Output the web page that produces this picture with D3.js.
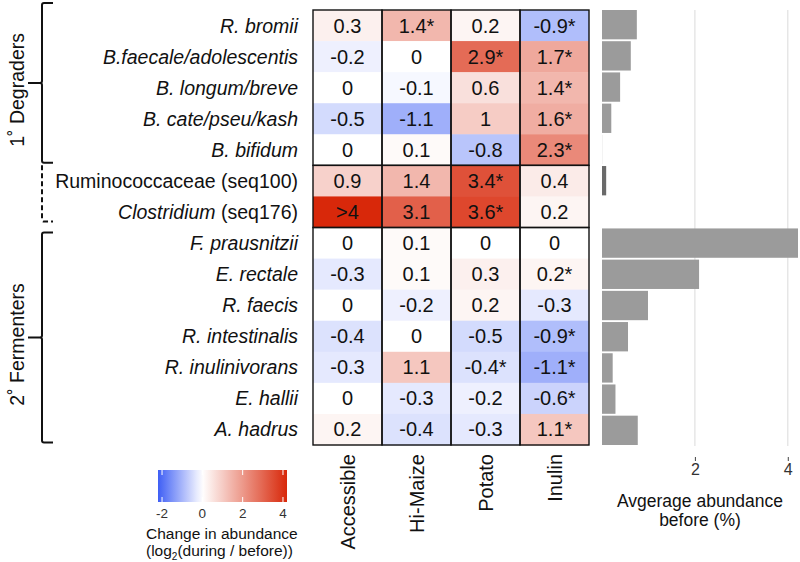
<!DOCTYPE html>
<html>
<head>
<meta charset="utf-8">
<script src="https://cdn.jsdelivr.net/npm/d3@7"></script>
<style>
  body { margin: 0; background: #fff; }
  text { font-family: "Liberation Sans", Arial, Helvetica, sans-serif; fill: #111; }
</style>
</head>
<body>
<div id="chart"></div>
<script>

// taxa (rows) and diets (columns)
var taxa = ["R. bromii", "B.faecale/adolescentis", "B. longum/breve", "B. cate/pseu/kash", "B. bifidum",
            "Ruminococcaceae (seq100)", "Clostridium (seq176)",
            "F. prausnitzii", "E. rectale", "R. faecis", "R. intestinalis", "R. inulinivorans", "E. hallii", "A. hadrus"];
var italicTaxa = [true, true, true, true, true, false, true, true, true, true, true, true, true, true];
var diets = ["Accessible", "Hi-Maize", "Potato", "Inulin"];

// log2 change labels for each diet, * = significant
var accessible = ["0.3", "-0.2", "0", "-0.5", "0", "0.9", ">4", "0", "-0.3", "0", "-0.4", "-0.3", "0", "0.2"];
var hiMaize    = ["1.4*", "0", "-0.1", "-1.1", "0.1", "1.4", "3.1", "0.1", "0.1", "-0.2", "0", "1.1", "-0.3", "-0.4"];
var potato     = ["0.2", "2.9*", "0.6", "1", "-0.8", "3.4*", "3.6*", "0", "0.3", "0.2", "-0.5", "-0.4*", "-0.2", "-0.3"];
var inulin     = ["-0.9*", "1.7*", "1.4*", "1.6*", "2.3*", "0.4", "0.2", "0", "0.2*", "-0.3", "-0.9*", "-1.1*", "-0.6*", "1.1*"];

// average abundance before (%)
var abundance = [0.75, 0.62, 0.39, 0.2, 0.01, 0.09, 0, 4.22, 2.09, 0.99, 0.56, 0.23, 0.29, 0.77];

// groups of rows
var groups = [
  {name: "1˚ Degraders", from: 0, to: 4, dashed: false},
  {name: "", from: 5, to: 6, dashed: true},
  {name: "2˚ Fermenters", from: 7, to: 13, dashed: false}
];

var legendTicks = [-2, 0, 2, 4];
var barTicks = [2, 4];

// building the cell table
var columns = [accessible, hiMaize, potato, inulin];
var cells = [];
columns.forEach(function(col, j) {
  col.forEach(function(lab, i) {
    var v = lab === ">4" ? 4.2 : parseFloat(lab);
    cells.push({row: i, col: j, label: lab, value: v});
  });
});

var W = 800, H = 562;
var svg = d3.select("#chart").append("svg")
    .attr("width", W)
    .attr("height", H);

// scales
var x = d3.scaleBand().domain(d3.range(diets.length)).range([313, 589]);
var y = d3.scaleBand().domain(d3.range(taxa.length)).range([10, 445]);
var color = d3.scaleLinear()
    .domain([-2.2, 0, 4.2])
    .range(["#3f5ff5", "#ffffff", "#d8280a"])
    .clamp(true);

// heatmap cells
svg.append("g").selectAll("rect")
    .data(cells)
  .enter().append("rect")
    .attr("x", function(d) { return x(d.col); })
    .attr("y", function(d) { return y(d.row); })
    .attr("width", x.bandwidth())
    .attr("height", y.bandwidth() + 0.5)
    .style("fill", function(d) { return color(d.value); });

svg.append("g").selectAll("text")
    .data(cells)
  .enter().append("text")
    .attr("x", function(d) { return x(d.col) + x.bandwidth() / 2; })
    .attr("y", function(d) { return y(d.row) + y.bandwidth() / 2 + 7; })
    .attr("text-anchor", "middle")
    .attr("font-size", "20px")
    .text(function(d) { return d.label; });

// black boxes around each group in each column
var boxes = [];
groups.forEach(function(g) {
  diets.forEach(function(dd, j) { boxes.push({g: g, col: j}); });
});
svg.append("g").selectAll("rect")
    .data(boxes)
  .enter().append("rect")
    .attr("x", function(d) { return x(d.col); })
    .attr("y", function(d) { return y(d.g.from); })
    .attr("width", x.bandwidth())
    .attr("height", function(d) { return y(d.g.to) + y.bandwidth() - y(d.g.from); })
    .style("fill", "none")
    .style("stroke", "#111")
    .style("stroke-width", 1.4);

// row labels
var rowLabels = svg.append("g").selectAll("text")
    .data(taxa)
  .enter().append("text")
    .attr("x", 298)
    .attr("y", function(d, i) { return y(i) + y.bandwidth() / 2 + 7; })
    .attr("text-anchor", "end")
    .attr("font-size", "19.5px");
rowLabels.each(function(d, i) {
  var t = d3.select(this);
  var m = d.match(/^(.*?)( \(seq\d+\))$/);
  if (m && italicTaxa[i]) {
    t.append("tspan").style("font-style", "italic").text(m[1]);
    t.append("tspan").text(m[2]);
  } else {
    t.style("font-style", italicTaxa[i] ? "italic" : "normal").text(d);
  }
});

// column labels
svg.append("g").selectAll("text")
    .data(diets)
  .enter().append("text")
    .attr("transform", function(d, i) {
      return "translate(" + (x(i) + x.bandwidth() / 2 + 7) + ",454)rotate(-90)";
    })
    .attr("text-anchor", "end")
    .attr("font-size", "20px")
    .text(function(d) { return d; });

// brackets for groups
var bx = 42;
groups.forEach(function(g) {
  var top = y(g.from) + (g.dashed ? 0 : (g.from === 0 ? -7 : 5));
  var bot = y(g.to) + y.bandwidth() - (g.dashed ? 6 : 2.5);
  var path;
  if (g.dashed) {
    path = "M" + bx + "," + top + "V" + (bot - 2) + "Q" + bx + "," + bot + " " + (bx + 2) + "," + bot + "H53";
  } else {
    var mid = (top + bot) / 2;
    path = "M53," + top + "H" + (bx + 2) + "Q" + bx + "," + top + " " + bx + "," + (top + 2) +
           "V" + (mid - 2) + "Q" + bx + "," + mid + " " + (bx - 2) + "," + mid + "H28" +
           "M" + (bx - 2) + "," + mid + "Q" + bx + "," + mid + " " + bx + "," + (mid + 2) +
           "V" + (bot - 2) + "Q" + bx + "," + bot + " " + (bx + 2) + "," + bot + "H53";
    svg.append("text")
        .attr("transform", "translate(24," + (mid + 7) + ")rotate(-90)")
        .attr("text-anchor", "middle")
        .attr("font-size", "19.5px")
        .text(g.name);
  }
  svg.append("path")
      .attr("d", path)
      .style("fill", "none")
      .style("stroke", "#111")
      .style("stroke-width", 2)
      .style("stroke-dasharray", g.dashed ? "5,3" : null);
});

// bar chart of abundance before
var xb = d3.scaleLinear().domain([0, 4.22]).range([602, 798]);
var yb = d3.scaleBand().domain(d3.range(taxa.length)).range([10, 445]).paddingInner(0.06);

svg.append("g").selectAll("line")
    .data(barTicks)
  .enter().append("line")
    .attr("x1", function(d) { return xb(d); })
    .attr("x2", function(d) { return xb(d); })
    .attr("y1", 10)
    .attr("y2", 446)
    .style("stroke", "#e3e3e3")
    .style("stroke-width", 1.3);

svg.append("g").selectAll("rect")
    .data(abundance)
  .enter().append("rect")
    .attr("x", xb(0))
    .attr("y", function(d, i) { return yb(i); })
    .attr("width", function(d) { return Math.max(0, xb(d) - xb(0)); })
    .attr("height", yb.bandwidth())
    .style("fill", function(d, i) { return i === 5 ? "#6a6a6a" : (i === 4 ? "#e6e6e6" : "#9b9b9b"); });

var barAxis = svg.append("g")
    .attr("transform", "translate(0,457)")
    .call(d3.axisBottom(xb).tickValues(barTicks).tickFormat(d3.format("d")).tickSize(4).tickPadding(3));
barAxis.select(".domain").remove();
barAxis.selectAll("line").style("stroke", "#444");
barAxis.selectAll("text")
    .attr("font-size", "16px")
    .style("fill", "#333")
    .style("font-family", "\"Liberation Sans\", Arial, sans-serif");

svg.append("text")
    .attr("x", 700)
    .attr("y", 507)
    .attr("text-anchor", "middle")
    .attr("font-size", "17.5px")
    .text("Avgerage abundance");
svg.append("text")
    .attr("x", 700)
    .attr("y", 526)
    .attr("text-anchor", "middle")
    .attr("font-size", "17.5px")
    .text("before (%)");

// colour legend
var xl = d3.scaleLinear().domain([-2.2, 4.2]).range([158, 287]);
var grad = svg.append("defs").append("linearGradient")
    .attr("id", "legendGrad")
    .attr("x1", "0%").attr("x2", "100%");
d3.range(0, 1.0001, 0.05).forEach(function(t) {
  var v = -2.2 + t * 6.4;
  grad.append("stop")
      .attr("offset", (t * 100) + "%")
      .attr("stop-color", color(v));
});
svg.append("rect")
    .attr("x", xl(-2.2))
    .attr("y", 470)
    .attr("width", xl(4.2) - xl(-2.2))
    .attr("height", 32)
    .style("fill", "url(#legendGrad)");

legendTicks.forEach(function(t) {
  svg.append("line")
      .attr("x1", xl(t)).attr("x2", xl(t))
      .attr("y1", 470).attr("y2", 475)
      .style("stroke", "#fff").style("stroke-width", 1);
  svg.append("line")
      .attr("x1", xl(t)).attr("x2", xl(t))
      .attr("y1", 497).attr("y2", 502)
      .style("stroke", "#fff").style("stroke-width", 1);
  svg.append("text")
      .attr("x", xl(t))
      .attr("y", 518)
      .attr("text-anchor", "middle")
      .attr("font-size", "13.5px")
      .style("fill", "#333")
      .text(t);
});

svg.append("text")
    .attr("x", 146)
    .attr("y", 539)
    .attr("font-size", "15.5px")
    .text("Change in abundance");
var sub = svg.append("text")
    .attr("x", 146)
    .attr("y", 556)
    .attr("font-size", "15.5px");
sub.append("tspan").text("(log");
sub.append("tspan").attr("font-size", "10px").attr("dy", 4).text("2");
sub.append("tspan").attr("dy", -4).text("(during / before))");

</script>
</body>
</html>
